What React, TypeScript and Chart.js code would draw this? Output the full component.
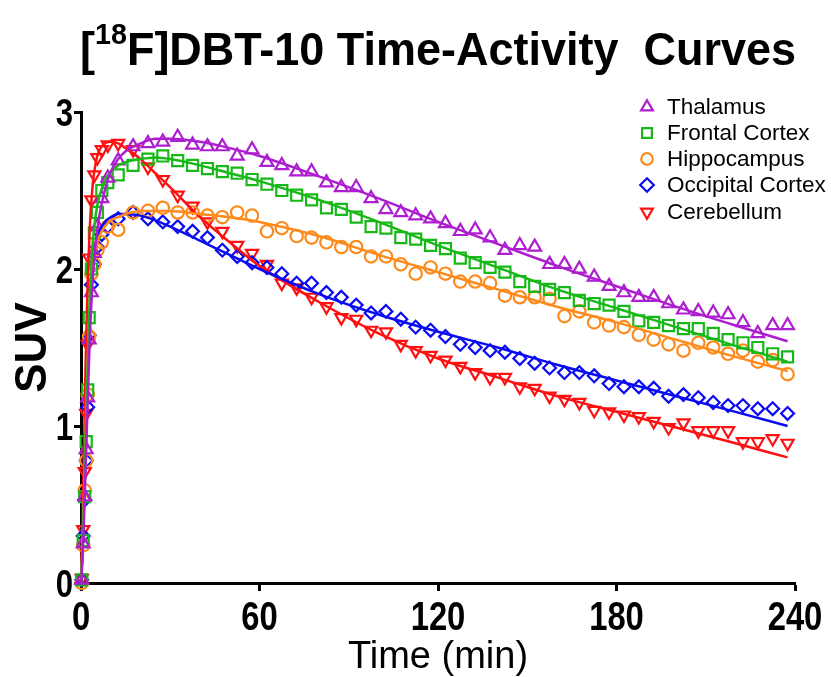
import React, { useEffect, useRef } from 'react';
import { Chart, registerables } from 'chart.js';
Chart.register(...registerables);

// ---- data ----
const frameTimes = [
  0.25, 0.75, 1.25, 1.75, 2.25, 2.75, 3.5, 4.5, 5.5, 7, 9,
  12.5, 17.5, 22.5, 27.5, 32.5, 37.5, 42.5, 47.5, 52.5, 57.5,
  62.5, 67.5, 72.5, 77.5, 82.5, 87.5, 92.5, 97.5, 102.5, 107.5,
  112.5, 117.5, 122.5, 127.5, 132.5, 137.5, 142.5, 147.5, 152.5, 157.5,
  162.5, 167.5, 172.5, 177.5, 182.5, 187.5, 192.5, 197.5, 202.5, 207.5,
  212.5, 217.5, 222.5, 227.5, 232.5, 237.5,
];

const thalamus = [
  0.02, 0.25, 0.55, 0.85, 1.18, 1.55, 1.85, 2.10, 2.27, 2.45, 2.58,
  2.69, 2.78, 2.80, 2.81, 2.84, 2.79, 2.78, 2.78, 2.72, 2.76,
  2.68, 2.66, 2.62, 2.62, 2.55, 2.52, 2.52, 2.45, 2.38, 2.36,
  2.34, 2.32, 2.29, 2.24, 2.25, 2.20, 2.12, 2.15, 2.14, 2.03,
  2.03, 2.00, 1.95, 1.89, 1.85, 1.82, 1.82, 1.78, 1.74, 1.73,
  1.72, 1.71, 1.66, 1.59, 1.64, 1.64,
];
const frontal = [
  0.02, 0.27, 0.55, 0.90, 1.23, 1.69, 2.00, 2.23, 2.36, 2.50, 2.55,
  2.60, 2.66, 2.70, 2.72, 2.69, 2.66, 2.64, 2.62, 2.61, 2.57,
  2.54, 2.50, 2.47, 2.44, 2.39, 2.38, 2.33, 2.27, 2.26, 2.20,
  2.19, 2.15, 2.13, 2.07, 2.04, 2.01, 1.98, 1.92, 1.89, 1.87,
  1.85, 1.80, 1.78, 1.77, 1.73, 1.67, 1.66, 1.64, 1.62, 1.62,
  1.59, 1.55, 1.53, 1.50, 1.46, 1.44,
];
const hippocampus = [
  0.00, 0.24, 0.59, 0.78, 1.20, 1.57, 1.97, 2.03, 2.12, 2.17, 2.27,
  2.25, 2.36, 2.37, 2.39, 2.36, 2.36, 2.34, 2.33, 2.36, 2.34,
  2.24, 2.26, 2.21, 2.20, 2.17, 2.14, 2.14, 2.08, 2.08, 2.03,
  1.97, 2.01, 1.97, 1.92, 1.92, 1.91, 1.83, 1.82, 1.82, 1.81,
  1.70, 1.73, 1.66, 1.64, 1.63, 1.58, 1.55, 1.52, 1.48, 1.53,
  1.50, 1.46, 1.48, 1.41, 1.42, 1.33,
];
const occipital = [
  0.02, 0.30, 0.53, 0.78, 1.12, 1.58, 1.90, 2.03, 2.14, 2.22, 2.27,
  2.32, 2.36, 2.32, 2.30, 2.27, 2.24, 2.20, 2.12, 2.08, 2.04,
  2.01, 1.97, 1.91, 1.91, 1.85, 1.82, 1.77, 1.72, 1.73, 1.68,
  1.63, 1.61, 1.57, 1.52, 1.50, 1.48, 1.47, 1.43, 1.40, 1.37,
  1.34, 1.34, 1.32, 1.27, 1.25, 1.25, 1.24, 1.19, 1.20, 1.18,
  1.15, 1.13, 1.13, 1.11, 1.11, 1.08,
];
const cerebellum = [
  0.03, 0.34, 0.71, 1.08, 1.52, 2.07, 2.44, 2.60, 2.71, 2.76, 2.79,
  2.80, 2.76, 2.65, 2.57, 2.47, 2.40, 2.30, 2.24, 2.15, 2.10,
  2.03, 1.91, 1.88, 1.82, 1.76, 1.69, 1.68, 1.61, 1.60, 1.52,
  1.48, 1.45, 1.42, 1.38, 1.34, 1.31, 1.31, 1.25, 1.24, 1.19,
  1.17, 1.15, 1.10, 1.09, 1.07, 1.06, 1.03, 0.99, 1.02, 0.97,
  0.97, 0.97, 0.90, 0.90, 0.92, 0.89,
];

const fitTimes = [0, 0.5, 1, 1.5, 2, 2.5, 3, 4, 5, 6, 8, 10, 12.5, 15, 20, 25, 30, 40, 50, 60, 80, 100, 120, 140, 160, 180, 200, 220, 237.5];
const thalamusFit = [0, 0.15, 0.40, 0.70, 1.00, 1.30, 1.58, 1.95, 2.17, 2.32, 2.50, 2.62, 2.70, 2.75, 2.80, 2.83, 2.83, 2.81, 2.77, 2.72, 2.59, 2.45, 2.30, 2.16, 2.02, 1.89, 1.76, 1.64, 1.54];
const frontalFit = [0, 0.20, 0.50, 0.85, 1.20, 1.55, 1.85, 2.18, 2.35, 2.45, 2.56, 2.62, 2.66, 2.68, 2.70, 2.71, 2.70, 2.66, 2.61, 2.56, 2.44, 2.30, 2.15, 2.01, 1.87, 1.75, 1.63, 1.51, 1.41];
const hippocampusFit = [0, 0.25, 0.55, 0.90, 1.25, 1.55, 1.78, 2.02, 2.13, 2.20, 2.27, 2.31, 2.33, 2.35, 2.37, 2.37, 2.37, 2.35, 2.33, 2.30, 2.21, 2.09, 1.98, 1.87, 1.76, 1.66, 1.55, 1.44, 1.35];
const occipitalFit = [0, 0.20, 0.48, 0.80, 1.15, 1.45, 1.70, 2.00, 2.15, 2.23, 2.30, 2.33, 2.35, 2.35, 2.34, 2.31, 2.27, 2.18, 2.09, 2.00, 1.84, 1.71, 1.60, 1.50, 1.39, 1.29, 1.19, 1.09, 1.00];
const cerebellumFit = [0, 0.35, 0.85, 1.35, 1.75, 2.05, 2.28, 2.55, 2.68, 2.75, 2.80, 2.81, 2.80, 2.77, 2.70, 2.61, 2.52, 2.33, 2.17, 2.02, 1.79, 1.59, 1.43, 1.31, 1.19, 1.09, 0.99, 0.89, 0.80];

const xTicks = [0, 60, 120, 180, 240];
const yTicks = [0, 1, 2, 3];

const seriesNames = ['Thalamus', 'Frontal Cortex', 'Hippocampus', 'Occipital Cortex', 'Cerebellum'];
const seriesColors = ['#AD1ED0', '#18B818', '#FF8A1C', '#0A0AF5', '#FF1010'];
const seriesShapes = ['triangle', 'rect', 'circle', 'rectRot', 'triangleDown'];
const seriesValues = [thalamus, frontal, hippocampus, occipital, cerebellum];
const seriesFits = [thalamusFit, frontalFit, hippocampusFit, occipitalFit, cerebellumFit];

const SANS = '"Liberation Sans", Arial, sans-serif';
const NARROW_SCALE = 0.82;

function drawShape(ctx: CanvasRenderingContext2D, shape: string, x: number, y: number, r: number) {
  ctx.beginPath();
  if (shape === 'triangle') {
    ctx.moveTo(x, y - r);
    ctx.lineTo(x + r * 0.866, y + r * 0.5);
    ctx.lineTo(x - r * 0.866, y + r * 0.5);
    ctx.closePath();
  } else if (shape === 'triangleDown') {
    ctx.moveTo(x, y + r);
    ctx.lineTo(x + r * 0.866, y - r * 0.5);
    ctx.lineTo(x - r * 0.866, y - r * 0.5);
    ctx.closePath();
  } else if (shape === 'rect') {
    const s = r * 0.72;
    ctx.rect(x - s, y - s, 2 * s, 2 * s);
  } else if (shape === 'circle') {
    ctx.arc(x, y, r * 0.85, 0, Math.PI * 2);
  } else if (shape === 'rectRot') {
    ctx.moveTo(x, y - r);
    ctx.lineTo(x + r, y);
    ctx.lineTo(x, y + r);
    ctx.lineTo(x - r, y);
    ctx.closePath();
  }
  ctx.stroke();
}

function narrowText(ctx: CanvasRenderingContext2D, text: string, x: number, y: number, align: 'left' | 'center' | 'right') {
  const w = ctx.measureText(text).width * NARROW_SCALE;
  let left = x;
  if (align === 'center') left = x - w / 2;
  if (align === 'right') left = x - w;
  ctx.save();
  ctx.translate(left, y);
  ctx.scale(NARROW_SCALE, 1);
  ctx.textAlign = 'left';
  ctx.fillText(text, 0, 0);
  ctx.restore();
}

const decorPlugin = {
  id: 'decor',
  afterDraw(chart: any) {
    const ctx: CanvasRenderingContext2D = chart.ctx;
    // Tick labels (condensed bold)
    ctx.save();
    ctx.fillStyle = '#000';
    ctx.textBaseline = 'alphabetic';
    ctx.font = 'bold 40px ' + SANS;
    const xs = chart.scales.x;
    for (const v of xTicks) {
      narrowText(ctx, String(v), xs.getPixelForValue(v), 630, 'center');
    }
    const ys = chart.scales.y;
    ctx.font = 'bold 38px ' + SANS;
    for (const v of yTicks) {
      narrowText(ctx, String(v), 73, ys.getPixelForValue(v) + 14, 'right');
    }
    ctx.restore();

    // Title with superscript
    ctx.save();
    const big = 'bold 47px ' + SANS;
    const small = 'bold 30px ' + SANS;
    const parts: [string, string, number][] = [
      ['[', big, 0],
      ['18', small, -21],
      ['F]DBT-10 Time-Activity  Curves', big, 0],
    ];
    let total = 0;
    for (const p of parts) {
      ctx.font = p[1];
      total += ctx.measureText(p[0]).width;
    }
    const target = 716;
    const sx = target / total;
    ctx.translate(80, 0);
    ctx.scale(sx, 1);
    ctx.fillStyle = '#000';
    ctx.textBaseline = 'alphabetic';
    ctx.textAlign = 'left';
    let cx = 0;
    for (const p of parts) {
      ctx.font = p[1];
      ctx.fillText(p[0], cx, 65 + p[2]);
      cx += ctx.measureText(p[0]).width;
    }
    ctx.restore();

    // Legend
    ctx.save();
    const rows = [107, 133, 159, 185, 212];
    ctx.font = '22.5px ' + SANS;
    ctx.textBaseline = 'middle';
    ctx.textAlign = 'left';
    for (let i = 0; i < seriesNames.length; i++) {
      ctx.strokeStyle = seriesColors[i];
      ctx.lineWidth = 2.2;
      drawShape(ctx, seriesShapes[i], 647, rows[i], 6.8);
      ctx.fillStyle = '#000';
      ctx.fillText(seriesNames[i], 667, rows[i] + 1);
    }
    ctx.restore();
  },
};

export default function App() {
  const ref = useRef<HTMLCanvasElement>(null);
  useEffect(() => {
    if (!ref.current) return;
    const datasets: any[] = [];
    for (let i = 0; i < seriesNames.length; i++) {
      const shape = seriesShapes[i];
      let pointStyle = shape;
      let rotation = 0;
      let radius = 7.4;
      if (shape === 'triangleDown') { pointStyle = 'triangle'; rotation = 180; radius = 7.0; }
      if (shape === 'rect') radius = 7.8;
      if (shape === 'circle') radius = 6.2;
      if (shape === 'rectRot') radius = 6.4;
      datasets.push({
        label: seriesNames[i],
        data: frameTimes.map((t, j) => ({ x: t, y: seriesValues[i][j] })),
        showLine: false,
        pointStyle,
        rotation,
        pointRadius: radius,
        pointBorderWidth: 2.2,
        borderColor: seriesColors[i],
        backgroundColor: 'rgba(0,0,0,0)',
        pointBackgroundColor: 'rgba(0,0,0,0)',
        order: 10 + i,
        clip: false,
      });
    }
    for (let i = 0; i < seriesNames.length; i++) {
      datasets.push({
        label: seriesNames[i] + ' fit',
        data: fitTimes.map((t, j) => ({ x: t, y: seriesFits[i][j] })),
        showLine: true,
        pointRadius: 0,
        borderWidth: 2.5,
        borderColor: seriesColors[i],
        backgroundColor: seriesColors[i],
        cubicInterpolationMode: 'monotone',
        order: i === 0 ? 0 : i + 1,
        clip: false,
      });
    }
    const chart = new Chart(ref.current, {
      type: 'scatter',
      data: { datasets },
      options: {
        animation: false,
        responsive: false,
        devicePixelRatio: 1,
        layout: { padding: { top: 112, right: 36, left: 0, bottom: 0 } },
        plugins: { legend: { display: false }, tooltip: { enabled: false }, title: { display: false } },
        scales: {
          x: {
            type: 'linear',
            min: 0,
            max: 240,
            afterFit: (s: any) => { s.height = 94; },
            afterBuildTicks: (s: any) => { s.ticks = xTicks.map((v) => ({ value: v })); },
            ticks: { display: false },
            grid: { drawOnChartArea: false, drawTicks: true, tickLength: 8, tickWidth: 3, tickColor: '#000' },
            border: { color: '#000', width: 3 },
            title: {
              display: true,
              text: 'Time (min)',
              color: '#000',
              font: { family: SANS, size: 38, lineHeight: 1 },
              padding: { top: 0, bottom: 0 },
            },
          },
          y: {
            min: 0,
            max: 3,
            afterFit: (s: any) => { s.width = 81; },
            afterBuildTicks: (s: any) => { s.ticks = yTicks.map((v) => ({ value: v })); },
            ticks: { display: false },
            grid: { drawOnChartArea: false, drawTicks: true, tickLength: 7, tickWidth: 3, tickColor: '#000' },
            border: { color: '#000', width: 3 },
            title: {
              display: true,
              text: 'SUV',
              color: '#000',
              font: { family: SANS, size: 44, weight: 'bold', lineHeight: 1.2 },
              padding: { top: 7, bottom: 4 },
            },
          },
        },
      } as any,
      plugins: [decorPlugin],
    });
    return () => chart.destroy();
  }, []);
  return (
    <div style={{ position: 'absolute', left: 0, top: 0, width: 831, height: 677, background: '#fff' }}>
      <canvas ref={ref} width={831} height={677} style={{ width: 831, height: 677, display: 'block' }} />
    </div>
  );
}
